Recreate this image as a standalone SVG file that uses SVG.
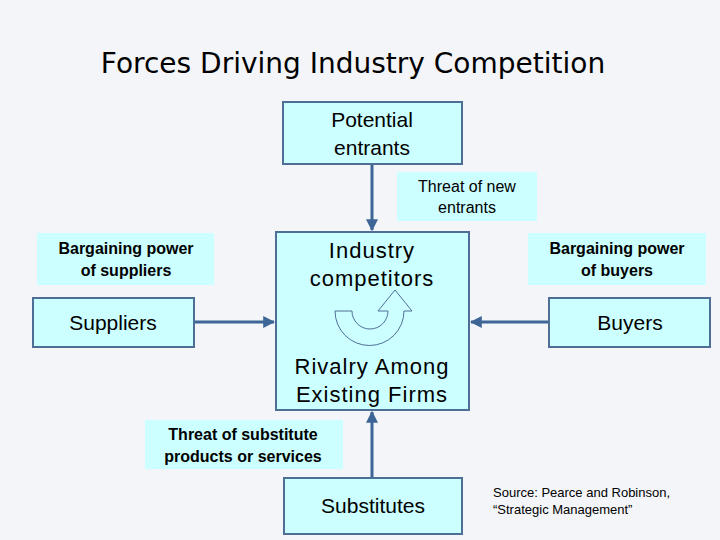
<svg xmlns="http://www.w3.org/2000/svg" width="720" height="540" viewBox="0 0 720 540">
<defs>
<marker id="ah" viewBox="0 0 10 10" refX="9" refY="5" markerWidth="4" markerHeight="4" orient="auto-start-reverse"><path d="M0,0 L10,5 L0,10 Z" fill="#3d6596"/></marker>
<style>
.box{fill:#ccffff;stroke:#4f6e96;stroke-width:2}
.lab{fill:#ccffff;stroke:none}
.t{font-family:"Liberation Sans",Arial,sans-serif;fill:#000;text-anchor:middle}
.b{font-weight:bold;font-size:16px}
.c{stroke:#3d6596;stroke-width:3;fill:none;marker-end:url(#ah)}
</style>
</defs>
<rect width="720" height="540" fill="#f3f5f8"/>
<text x="353" y="73" font-family="'DejaVu Sans',sans-serif" font-size="28" text-anchor="middle" fill="#000">Forces Driving Industry Competition</text>
<g id="connectors">
<line class="c" x1="372" y1="165" x2="372" y2="230"/>
<line class="c" x1="195" y1="322" x2="274" y2="322"/>
<line class="c" x1="548" y1="322" x2="471" y2="322"/>
<line class="c" x1="372" y1="478" x2="372" y2="412"/>
</g>
<g id="potential"><rect class="box" x="283" y="102" width="179" height="62"/><text class="t" font-size="21" x="372" y="127">Potential</text><text class="t" font-size="21" x="372" y="155">entrants</text></g>
<g id="threatnew"><rect class="lab" x="397" y="172" width="140" height="49"/><text class="t" font-size="16" x="467" y="192">Threat of new</text><text class="t" font-size="16" x="467" y="213">entrants</text></g>
<g id="bsup"><rect class="lab" x="37" y="233" width="177" height="52"/><text class="t b" x="126" y="254">Bargaining power</text><text class="t b" x="126" y="276">of suppliers</text></g>
<g id="suppliers"><rect class="box" x="33" y="298" width="161" height="49"/><text class="t" font-size="21" x="113" y="330">Suppliers</text></g>
<g id="bbuy"><rect class="lab" x="528" y="233" width="178" height="52"/><text class="t b" x="617" y="254">Bargaining power</text><text class="t b" x="617" y="276">of buyers</text></g>
<g id="buyers"><rect class="box" x="549" y="298" width="161" height="49"/><text class="t" font-size="21" x="630" y="330">Buyers</text></g>
<g id="industry"><rect class="box" x="276" y="232" width="193" height="178"/>
<text class="t" font-size="22" letter-spacing="1" x="372" y="258">Industry</text><text class="t" font-size="22" letter-spacing="1" x="372" y="286">competitors</text>
<path d="M335,311 A34.5,34.5 0 0 0 404,311 L412,311 L395,290 L378,311 L388,311 A18,18 0 0 1 352,311 Z" fill="none" stroke="#4f6e96" stroke-width="1"/>
<text class="t" font-size="22" letter-spacing="1" x="372" y="374">Rivalry Among</text><text class="t" font-size="22" letter-spacing="1" x="372" y="402">Existing Firms</text></g>
<g id="threatsub"><rect class="lab" x="145" y="420" width="198" height="49"/><text class="t b" x="243" y="440">Threat of substitute</text><text class="t b" x="243" y="462">products or services</text></g>
<g id="substitutes"><rect class="box" x="284" y="478" width="178" height="56"/><text class="t" font-size="21" x="373" y="513">Substitutes</text></g>
<g id="source"><text font-family="'Liberation Sans',Arial,sans-serif" font-size="13" x="493" y="497">Source: Pearce and Robinson,</text><text font-family="'Liberation Sans',Arial,sans-serif" font-size="13" x="493" y="514">“Strategic Management”</text></g>
</svg>
